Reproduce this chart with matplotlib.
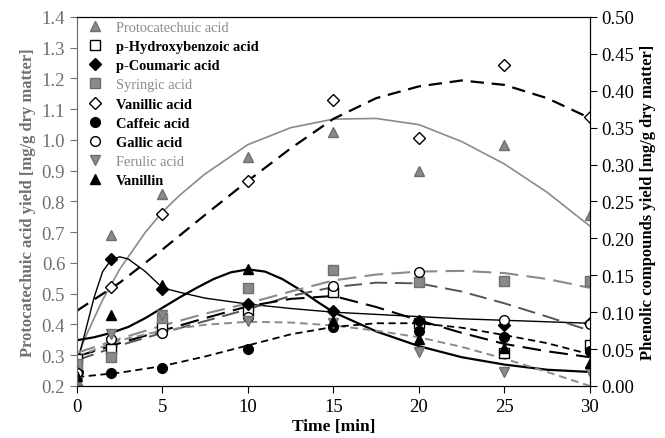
import matplotlib.pyplot as plt

plt.rcParams['font.family'] = 'Liberation Serif'
plt.rcParams['font.size'] = 11

GRAY = '#8a8a8a'
GRAY_EDGE = '#6e6e6e'
AXGRAY = '#707070'

t = [0, 2, 5, 10, 15, 20, 25, 30]

# measured points (left axis: protocatechuic, right axis: the rest)
protocatechuic = [0.22, 0.69, 0.825, 0.945, 1.025, 0.90, 0.985, 0.755]
hydroxybenzoic = [0.037, 0.05, 0.08, 0.102, 0.127, 0.085, 0.045, 0.056]
coumaric = [0.02, 0.1725, 0.131, 0.111, 0.101, 0.088, 0.083, 0.085]
syringic = [0.03, 0.039, 0.092, 0.133, 0.157, 0.1405, 0.142, 0.142]
vanillic = [0.017, 0.134, 0.233, 0.278, 0.387, 0.336, 0.435, 0.364]
caffeic = [0.014, 0.018, 0.025, 0.05, 0.08, 0.075, 0.067, 0.048]
gallic = [0.018, 0.064, 0.072, 0.093, 0.136, 0.154, 0.09, 0.084]
ferulic = [0.005, 0.07, 0.096, 0.0885, 0.085, 0.046, 0.0186, 0.019]
vanillin = [0.014, 0.096, 0.137, 0.158, 0.0885, 0.064, 0.052, 0.031]

# fitted curves
tf = [0, 2.5, 5, 7.5, 10, 12.5, 15, 17.5, 20, 22.5, 25, 27.5, 30]
tf_fast = [0, 0.5, 1, 1.5, 2, 2.5, 3, 4, 5, 6, 7.5, 10, 12.5, 15, 17.5, 20, 22.5, 25, 27.5, 30]
tf_vanillin = [0, 1, 2, 3, 4, 5, 6, 7, 8, 9, 10, 11, 12, 13, 14, 15, 17.5, 20, 22.5, 25, 27.5, 30]

fit_protocatechuic = [0.29, 0.36, 0.42, 0.48, 0.53, 0.58, 0.62, 0.70, 0.766, 0.82, 0.89, 0.985,
                      1.04, 1.068, 1.07, 1.05, 0.995, 0.922, 0.83, 0.72]
fit_coumaric = [0.03, 0.075, 0.12, 0.155, 0.171, 0.175, 0.172, 0.155, 0.133, 0.127, 0.119, 0.111,
                0.105, 0.1, 0.097, 0.094, 0.091, 0.089, 0.087, 0.085]
fit_vanillin = [0.062, 0.066, 0.072, 0.080, 0.092, 0.106, 0.120, 0.133, 0.145, 0.154, 0.158,
                0.155, 0.145, 0.131, 0.115, 0.100, 0.074, 0.054, 0.039, 0.029, 0.022, 0.019]
fit_vanillic = [0.102, 0.14, 0.185, 0.232, 0.278, 0.322, 0.362, 0.39, 0.406, 0.414, 0.408, 0.39, 0.363]
fit_syringic = [0.045, 0.064, 0.082, 0.098, 0.112, 0.128, 0.143, 0.151, 0.155, 0.156, 0.153, 0.145, 0.133]
fit_gallic = [0.035, 0.055, 0.072, 0.088, 0.104, 0.122, 0.134, 0.14, 0.139, 0.128, 0.112, 0.094, 0.075]
fit_hydroxybenzoic = [0.04, 0.058, 0.075, 0.092, 0.108, 0.118, 0.122, 0.107, 0.089, 0.072, 0.057, 0.047, 0.039]
fit_ferulic = [0.04, 0.062, 0.075, 0.083, 0.087, 0.086, 0.082, 0.075, 0.066, 0.053, 0.037, 0.019, 0.0]
fit_caffeic = [0.012, 0.018, 0.027, 0.04, 0.055, 0.07, 0.08, 0.085, 0.085, 0.079, 0.069, 0.058, 0.043]

fig = plt.figure(figsize=(6.65, 4.39), dpi=100)
ax1 = fig.add_axes([0.1158, 0.1185, 0.887 - 0.1158, 0.959 - 0.1185])
ax2 = ax1.twinx()

# curves
ax1.plot(tf_fast, fit_protocatechuic, color=GRAY, lw=1.2)
ax2.plot(tf_fast, fit_coumaric, color='k', lw=1.0)
ax2.plot(tf_vanillin, fit_vanillin, color='k', lw=1.6)
ax2.plot(tf, fit_vanillic, color='k', lw=1.6, dashes=(6, 3.5))
ax2.plot(tf, fit_syringic, color=GRAY, lw=1.5, dashes=(9, 4))
ax2.plot(tf, fit_gallic, color='#555555', lw=1.4, dashes=(9, 4))
ax2.plot(tf, fit_hydroxybenzoic, color='k', lw=1.5, dashes=(9, 4))
ax2.plot(tf, fit_ferulic, color=GRAY, lw=1.4, dashes=(4, 2.5))
ax2.plot(tf, fit_caffeic, color='k', lw=1.3, dashes=(4, 2.5))

# markers
ms = 7
h_pro, = ax1.plot(t, protocatechuic, '^', color=GRAY, mec=GRAY_EDGE, ms=ms, ls='none')
h_hyd, = ax2.plot(t, hydroxybenzoic, 's', mfc='white', mec='k', ms=6.5, ls='none')
h_cou, = ax2.plot(t, coumaric, 'D', color='k', ms=6.5, ls='none')
h_syr, = ax2.plot(t, syringic, 's', color=GRAY, mec=GRAY_EDGE, ms=6.5, ls='none')
h_van, = ax2.plot(t, vanillic, 'D', mfc='white', mec='k', ms=6.5, ls='none')
h_caf, = ax2.plot(t, caffeic, 'o', color='k', ms=ms, ls='none')
h_gal, = ax2.plot(t, gallic, 'o', mfc='white', mec='k', ms=ms, ls='none')
h_fer, = ax2.plot(t, ferulic, 'v', color=GRAY, mec=GRAY_EDGE, ms=ms, ls='none')
h_vnl, = ax2.plot(t, vanillin, '^', color='k', ms=ms, ls='none')

handles = [h_pro, h_hyd, h_cou, h_syr, h_van, h_caf, h_gal, h_fer, h_vnl]
labels = ['Protocatechuic acid', 'p-Hydroxybenzoic acid', 'p-Coumaric acid', 'Syringic acid',
          'Vanillic acid', 'Caffeic acid', 'Gallic acid', 'Ferulic acid', 'Vanillin']
label_colors = [GRAY, 'k', 'k', GRAY, 'k', 'k', 'k', GRAY, 'k']
leg = ax2.legend(handles, labels, loc='upper left', frameon=False, numpoints=1,
                 bbox_to_anchor=(-0.008, 1.025), labelspacing=0.42, handletextpad=0.9,
                 handlelength=1.2, fontsize=10.4)
for txt, c in zip(leg.get_texts(), label_colors):
    txt.set_color(c)
    if c == 'k':
        txt.set_fontweight('bold')

# axes
ax1.set_xlim(0, 30)
ax1.set_ylim(0.2, 1.4)
ax2.set_ylim(0.0, 0.5)
ax1.set_xticks([0, 5, 10, 15, 20, 25, 30])
ax1.set_yticks([0.2, 0.3, 0.4, 0.5, 0.6, 0.7, 0.8, 0.9, 1.0, 1.1, 1.2, 1.3, 1.4])
ax1.set_yticklabels(['%.1f' % v for v in ax1.get_yticks()])
ax2.set_yticks([0.0, 0.05, 0.1, 0.15, 0.2, 0.25, 0.3, 0.35, 0.4, 0.45, 0.5])
ax2.set_yticklabels(['%.2f' % v for v in ax2.get_yticks()])

ax1.tick_params(axis='both', direction='out', length=5, labelsize=13.5)
ax1.tick_params(axis='y', colors=AXGRAY)
ax2.tick_params(axis='y', direction='out', length=5, labelsize=13.5, colors='k')
ax1.spines['left'].set_color(AXGRAY)
ax2.spines['left'].set_color(AXGRAY)

ax1.set_xlabel('Time [min]', fontweight='bold', fontsize=12.5, labelpad=2)
ax1.set_ylabel('Protocatechuic acid yield [mg/g dry matter]', fontweight='bold',
               fontsize=12, color=AXGRAY, labelpad=4)
ax2.set_ylabel('Phenolic compounds yield [mg/g dry matter]', fontweight='bold', fontsize=12,
               labelpad=4)

fig.savefig('out.png', dpi=100)
